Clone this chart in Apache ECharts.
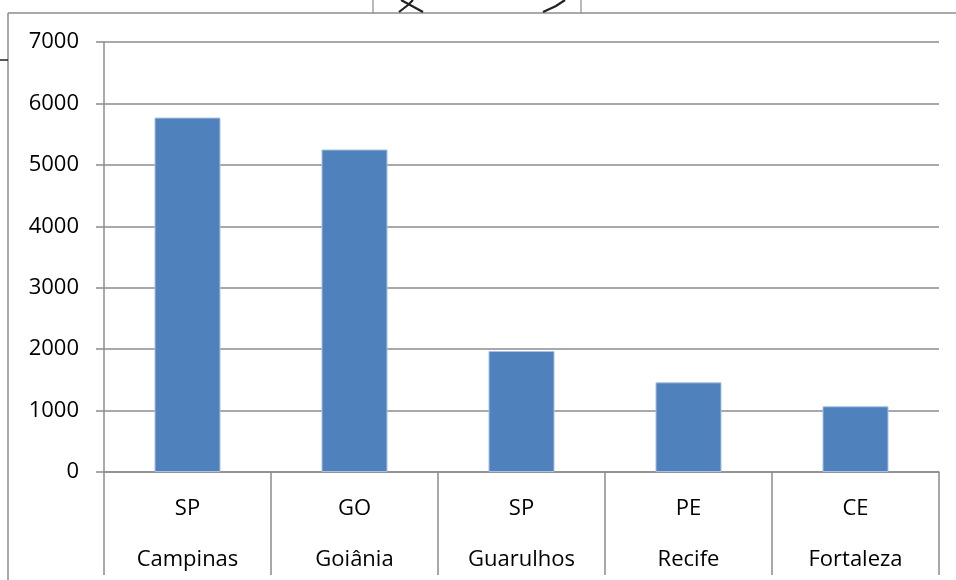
<!DOCTYPE html>
<html>
<head>
<meta charset="utf-8">
<script src="https://cdn.jsdelivr.net/npm/echarts@6/dist/echarts.min.js"></script>
<style>
  html, body { margin: 0; padding: 0; background: #fff; }
  #chart { width: 956px; height: 580px; }
</style>
</head>
<body>
<div id="chart"></div>
<script>
// Cities, their state codes and values
const states = ['SP', 'GO', 'SP', 'PE', 'CE'];
const cities = ['Campinas', 'Goiânia', 'Guarulhos', 'Recife', 'Fortaleza'];
const values = [5770, 5250, 1970, 1460, 1070];
const yTicks = [0, 1000, 2000, 3000, 4000, 5000, 6000, 7000];

const FONT = '"Open Sans", "Liberation Sans", sans-serif';
const GRID_GREY = '#8c8c8c';

const chart = echarts.init(document.getElementById('chart'), null, { renderer: 'canvas' });

const categories = states.map((s, i) => s + '|' + cities[i]);

chart.setOption({
  animation: false,
  backgroundColor: '#ffffff',
  grid: { left: 104, right: 17, top: 42, bottom: 108, containLabel: false },
  xAxis: {
    type: 'category',
    data: categories,
    boundaryGap: true,
    axisLine: { show: true, lineStyle: { color: GRID_GREY, width: 1.5 } },
    axisTick: { show: true, alignWithLabel: false, interval: 0, length: 103, lineStyle: { color: GRID_GREY, width: 1.5 } },
    axisLabel: {
      interval: 0,
      margin: 11,
      formatter: v => {
        const [s, c] = v.split('|');
        return '{s|' + s + '}\n{c|' + c + '}';
      },
      rich: {
        s: { fontFamily: FONT, fontSize: 22, color: '#000', lineHeight: 51 },
        c: { fontFamily: FONT, fontSize: 22, color: '#000', lineHeight: 51 }
      }
    }
  },
  yAxis: {
    type: 'value',
    min: yTicks[0],
    max: yTicks[yTicks.length - 1],
    interval: 1000,
    axisLine: { show: true, lineStyle: { color: GRID_GREY, width: 1.5 } },
    axisTick: { show: true, length: 8, lineStyle: { color: GRID_GREY, width: 1.5 } },
    axisLabel: { fontFamily: FONT, fontSize: 22, color: '#000', margin: 25, formatter: v => String(v) },
    splitLine: { show: true, lineStyle: { color: GRID_GREY, width: 1.5 } }
  },
  series: [{
    type: 'bar',
    data: values,
    barWidth: 66,
    itemStyle: { color: '#4f81bd', borderColor: '#a9c1e2', borderWidth: 1 }
  }],
  graphic: [
    // outer frame
    { type: 'line', shape: { x1: 8, y1: 13, x2: 956, y2: 13 }, style: { stroke: '#8c8c8c', lineWidth: 1.5 } },
    { type: 'line', shape: { x1: 8, y1: 13, x2: 8, y2: 580 }, style: { stroke: '#8c8c8c', lineWidth: 1.5 } },
    { type: 'line', shape: { x1: 0, y1: 60, x2: 8, y2: 60 }, style: { stroke: '#222', lineWidth: 1.5 } },
    // small box at top centre
    { type: 'line', shape: { x1: 373, y1: 0, x2: 373, y2: 13 }, style: { stroke: '#8c8c8c', lineWidth: 1.2 } },
    { type: 'line', shape: { x1: 581, y1: 0, x2: 581, y2: 13 }, style: { stroke: '#8c8c8c', lineWidth: 1.2 } },
    { type: 'polyline', shape: { points: [[399, 12], [408, 5], [413, 0]] }, style: { stroke: '#222', lineWidth: 2.2, fill: null } },
    { type: 'polyline', shape: { points: [[401, 0], [412, 6], [423, 12]] }, style: { stroke: '#222', lineWidth: 2.2, fill: null } },
    { type: 'polyline', shape: { points: [[543, 12], [556, 6], [565, 0]] }, style: { stroke: '#222', lineWidth: 2.2, fill: null } }
  ]
});
</script>
</body>
</html>
